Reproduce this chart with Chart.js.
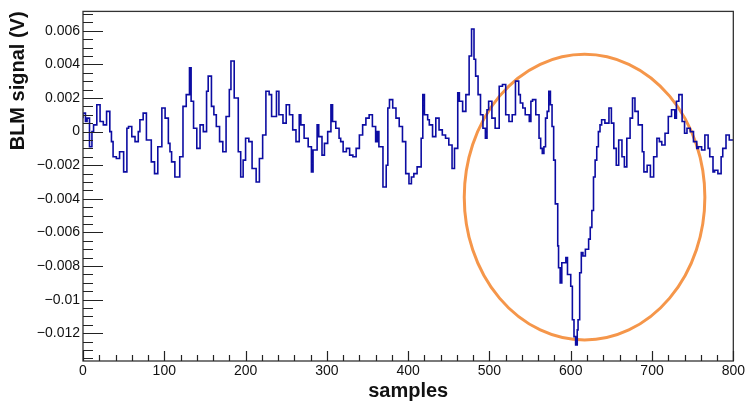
<!DOCTYPE html>
<html>
<head>
<meta charset="utf-8">
<script src="https://cdn.jsdelivr.net/npm/chart.js@4.4.1/dist/chart.umd.min.js"></script>
<style>
  html, body { margin: 0; padding: 0; background: #fff; }
  #wrap { width: 747px; height: 406px; }
</style>
</head>
<body>
<div id="wrap"><canvas id="blmChart"></canvas></div>
<script>
// BLM signal: each value holds from its start sample to the next one
const sampleStart = [0,3,5,8,11,13,17,21,25,29,33,35,37,41,45,50,54,56,60,64,68,70,74,78,84,88,92,97,101,105,107,109,113,119,123,127,131,133,136,140,144,148,152,154,158,161,164,168,172,176,180,182,186,191,194,197,200,204,208,213,217,221,225,229,232,238,241,246,250,254,258,262,266,268,272,277,281,283,288,290,294,297,301,305,307,311,315,317,320,324,328,332,336,340,344,348,352,356,360,362,364,369,373,375,377,381,385,389,393,397,401,404,407,411,416,418,420,424,426,430,434,438,442,446,450,454,457,461,463,467,471,475,478,481,483,486,489,492,495,497,499,503,507,512,516,520,524,528,532,536,538,541,544,549,551,553,557,561,563,565,567,569,571,573,575,577,579,581,584,585,587,589,594,596,600,602,604,606,608,609,611,613,615,618,622,624,626,628,630,632,634,636,638,642,647,650,653,656,659,663,666,669,673,676,679,683,688,690,694,698,702,706,709,712,716,720,724,728,730,733,737,740,743,747,751,755,757,761,765,769,771,775,777,781,785,787,791,795,798];
const signal = [0.0008,0.0011,0.0006,0.0008,-0.0009,0,0.0004,0.0016,0.0006,0.0004,0.0012,0,-0.0006,-0.0015,-0.0016,-0.0012,-0.0024,0.0002,0.0003,-0.0003,-0.0006,0,0.0007,0.0011,-0.0005,-0.0018,-0.0025,-0.0009,0.0014,0.0008,-0.0007,-0.0012,-0.0018,-0.0027,-0.0015,0.0015,0.0022,0.0038,0.0018,0.0002,-0.001,0.0004,0,0.0024,0.0033,0.0015,0.001,0.0003,-0.0006,-0.0012,0.0009,0.0025,0.0042,0.002,-0.0012,-0.0027,-0.0017,-0.0004,-0.0006,-0.0022,-0.003,-0.0016,-0.0002,0.0024,0.0022,0.0009,0.0024,0.001,0.0005,0.0016,0.001,0.0001,-0.0006,0.001,0.0004,-0.0004,-0.0009,-0.0024,-0.0011,0.0004,-0.0003,-0.0014,-0.0007,0,0.0016,0.0006,0.0002,-0.0004,-0.0006,-0.0012,-0.001,-0.0014,-0.0015,-0.001,-0.0002,0.0004,0.0008,0.001,0.0003,-0.0006,0,-0.0009,-0.0033,-0.002,0.0014,0.0019,0.0014,0.0008,0.0003,-0.0006,-0.0025,-0.0031,-0.0027,-0.0025,-0.0021,-0.0004,0.0022,0.001,0.0007,0.0004,-0.0003,0.0008,0.0001,-0.0002,-0.0004,-0.0008,-0.0022,-0.001,0.0023,0.0018,0.0012,0.0022,0.0045,0.0061,0.0043,0.0033,0.0022,0.001,0.0002,-0.0004,0.0013,0.0018,0.0008,0.0002,0.0027,0.0028,0.001,0.0006,0.001,0.003,0.0022,0.0017,0.0014,0.001,0.0006,0.0018,0.0019,0.001,-0.0004,-0.001,-0.0013,-0.0009,0.0008,0.0012,0.0024,0.0016,0.0003,-0.0017,-0.0043,-0.0068,-0.0081,-0.009,-0.0078,-0.0075,-0.0085,-0.0092,-0.0112,-0.0122,-0.0127,-0.0118,-0.0112,-0.0084,-0.0072,-0.0074,-0.007,-0.0064,-0.0057,-0.0047,-0.0027,-0.0017,-0.0009,0,0.0004,0.0007,0.0005,0.0014,0.0005,-0.001,-0.002,-0.0005,-0.0015,-0.0021,-0.0004,0.0008,0.002,0.0012,0.0004,-0.0012,-0.0024,-0.002,-0.0027,-0.0015,-0.0004,-0.0006,-0.0008,-0.0001,0.0009,0.0013,0.0008,0.0018,0.0022,0.0006,-0.0001,0.0002,0,-0.0006,-0.001,-0.0009,-0.0011,-0.0002,-0.001,-0.0015,-0.0024,-0.0023,-0.0025,-0.0015,-0.001,-0.0002,-0.0005];
const lastSample = 800;

// axis ticks and labels
const xTicks = [0, 100, 200, 300, 400, 500, 600, 700, 800];
const xTickLabels = ['0', '100', '200', '300', '400', '500', '600', '700', '800'];
const yTicks = [0.006, 0.004, 0.002, 0, -0.002, -0.004, -0.006, -0.008, -0.01, -0.012];
const yTickLabels = ['0.006', '0.004', '0.002', '0', '\u22120.002', '\u22120.004', '\u22120.006', '\u22120.008', '\u22120.01', '\u22120.012'];

// highlighted region (orange ellipse), in data units
const highlight = { x: 617, y: -0.0039, rx: 148, ry: 0.0085 };

const points = sampleStart.map((s, i) => ({ x: s, y: signal[i] }));
points.push({ x: lastSample, y: signal[signal.length - 1] });

const FONT = "'Liberation Sans', Arial, Helvetica, sans-serif";

// ROOT-like frame with inward tick marks
const framePlugin = {
    id: 'frame',
    beforeDatasetsDraw(chart) {
        const ctx = chart.ctx;
        const xs = chart.scales.x, ys = chart.scales.y;
        const cx = xs.getPixelForValue(highlight.x);
        const cy = ys.getPixelForValue(highlight.y);
        const rx = Math.abs(xs.getPixelForValue(highlight.x + highlight.rx) - cx);
        const ry = Math.abs(ys.getPixelForValue(highlight.y + highlight.ry) - cy);
        ctx.save();
        ctx.beginPath();
        ctx.ellipse(cx, cy, rx, ry, 0, 0, Math.PI * 2);
        ctx.strokeStyle = '#f5964a';
        ctx.lineWidth = 3;
        ctx.stroke();
        ctx.restore();
    },
    afterDatasetsDraw(chart) {
        const ctx = chart.ctx;
        const a = chart.chartArea;
        const xs = chart.scales.x, ys = chart.scales.y;
        ctx.save();
        ctx.strokeStyle = '#333';
        ctx.lineWidth = 1.3;
        ctx.strokeRect(a.left, a.top, a.right - a.left, a.bottom - a.top);

        ctx.lineWidth = 1.2;
        ctx.strokeStyle = '#222';
        ctx.beginPath();
        // left axis: major every 0.002, minor every 0.0005
        for (let v = -0.0135; v <= 0.0071; v += 0.0005) {
            const val = Math.round(v * 10000) / 10000;
            const y = Math.round(ys.getPixelForValue(val)) + 0.5;
            const major = Math.abs(Math.round(val * 10000)) % 20 === 0;
            ctx.moveTo(a.left, y);
            ctx.lineTo(a.left + (major ? 20 : 10), y);
        }
        // bottom axis: major every 100, minor every 20
        for (let s = 0; s <= 800; s += 20) {
            const x = Math.round(xs.getPixelForValue(s)) + 0.5;
            const major = s % 100 === 0;
            ctx.moveTo(x, a.bottom);
            ctx.lineTo(x, a.bottom - (major ? 10 : 6));
        }
        ctx.stroke();
        ctx.restore();
    }
};

const ctx = document.getElementById('blmChart').getContext('2d');
const blmChart = new Chart(ctx, {
    type: 'line',
    data: {
        datasets: [{
            label: 'BLM signal',
            data: points,
            stepped: 'after',
            borderColor: '#0c0ca2',
            borderWidth: 1.6,
            pointRadius: 0,
            fill: false
        }]
    },
    options: {
        responsive: true,
        maintainAspectRatio: false,
        animation: false,
        events: [],
        layout: { padding: { top: 10, right: 12, left: 0, bottom: 0 } },
        plugins: {
            legend: { display: false },
            tooltip: { enabled: false }
        },
        scales: {
            x: {
                type: 'linear',
                min: 0,
                max: 800,
                afterFit: (scale) => { scale.height = 45; },
                afterBuildTicks: (scale) => { scale.ticks = xTicks.map(v => ({ value: v })); },
                grid: { display: false, drawTicks: false },
                border: { display: false },
                ticks: {
                    padding: 2,
                    maxRotation: 0,
                    autoSkip: false,
                    color: '#111',
                    font: { family: FONT, size: 14 },
                    callback: (v) => xTickLabels[xTicks.indexOf(v)]
                },
                title: {
                    display: true,
                    text: 'samples',
                    color: '#111',
                    padding: { top: 0, bottom: 3 },
                    font: { family: FONT, size: 20, weight: 'bold' }
                }
            },
            y: {
                type: 'linear',
                min: -0.01365,
                max: 0.00715,
                afterFit: (scale) => { scale.width = 83; },
                afterBuildTicks: (scale) => { scale.ticks = yTicks.map(v => ({ value: v })); },
                grid: { display: false, drawTicks: false },
                border: { display: false },
                ticks: {
                    padding: 3,
                    autoSkip: false,
                    color: '#111',
                    font: { family: FONT, size: 14 },
                    callback: (v) => yTickLabels[yTicks.indexOf(v)]
                },
                title: {
                    display: true,
                    text: 'BLM signal (V)',
                    align: 'end',
                    color: '#111',
                    padding: { top: 6, bottom: 0 },
                    font: { family: FONT, size: 20, weight: 'bold' }
                }
            }
        }
    },
    plugins: [framePlugin]
});
</script>
</body>
</html>
